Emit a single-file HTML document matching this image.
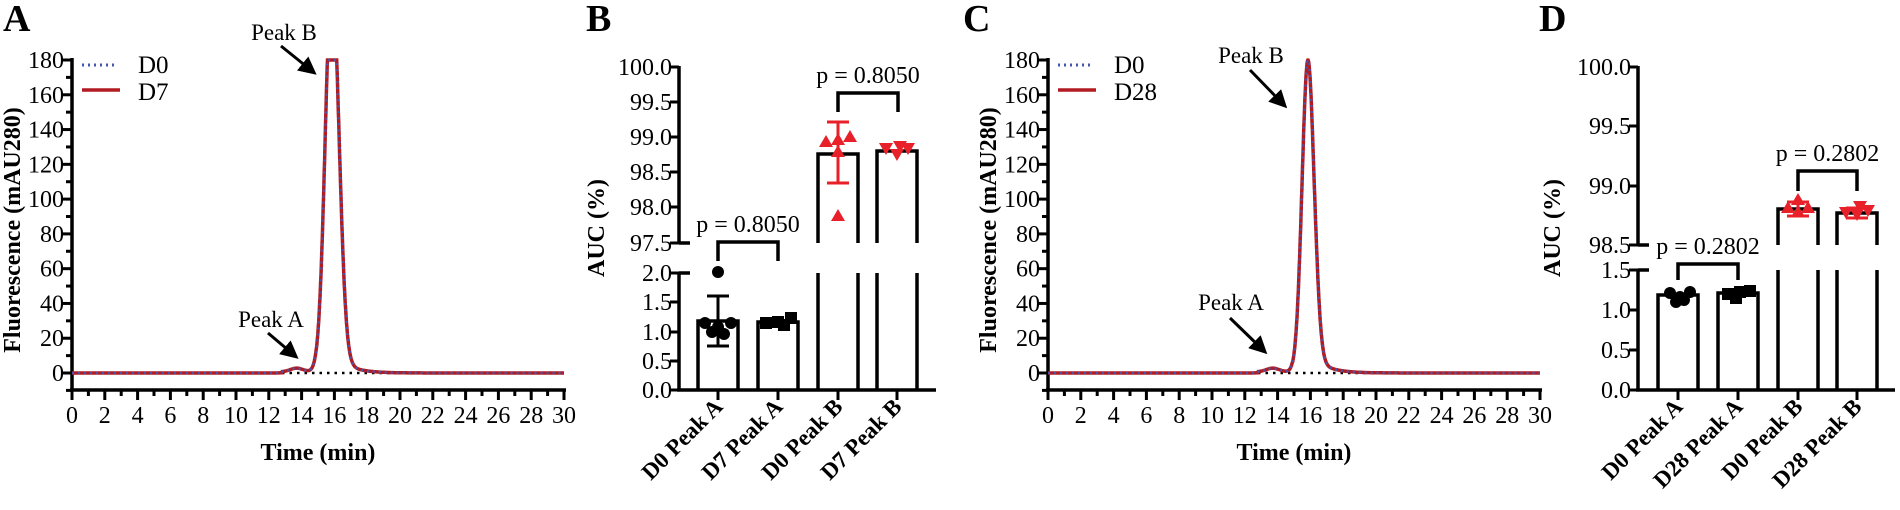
<!DOCTYPE html>
<html><head><meta charset="utf-8"><style>
html,body{margin:0;padding:0;background:#fff;}
svg{display:block;}
text{font-family:"Liberation Serif","Times New Roman",serif;}
</style></head><body>
<svg id="s" width="1900" height="510" viewBox="0 0 1900 510" xmlns="http://www.w3.org/2000/svg" font-family="'Liberation Serif', serif">
<defs><marker id="ah" markerWidth="6" markerHeight="6" refX="4" refY="3" orient="auto" markerUnits="strokeWidth"><path d="M0,0 L6,3 L0,6 z" fill="#000"/></marker></defs>
<g font-weight="bold" font-size="38" font-family="'Liberation Serif', serif">
<text x="3" y="31">A</text><text x="586" y="31">B</text><text x="963" y="31">C</text><text x="1539" y="31">D</text>
</g>
<g id="g" font-family="'Liberation Serif', serif"></g>
</svg>
<script>
var g=document.getElementById('g'),h='';
var FF=' font-family="Liberation Serif, serif" ';
function L(x1,y1,x2,y2,w,c,extra){h+='<line x1="'+x1+'" y1="'+y1+'" x2="'+x2+'" y2="'+y2+'" stroke="'+(c||'#000')+'" stroke-width="'+(w||3)+'" '+(extra||'')+'/>';}
function T(x,y,s,fs,anc,extra){h+='<text'+FF+'x="'+x+'" y="'+y+'" font-size="'+fs+'" text-anchor="'+(anc||'start')+'" '+(extra||'')+'>'+s+'</text>';}
function chrom(ox,label,H,sL,sR,clip){
  var y0=373,px=16.4,py=313/180;
  L(ox,58,ox,391,3.5);L(ox-2,390,ox+494,390,3.5);
  for(var v=-10;v<=180;v+=10){var y=y0-v*py;L(ox-(v%20==0?9:6),y,ox,y,3);if(v%20==0&&v>=0)T(ox-8,y+8,v,24,'end');}
  for(var t=0;t<=30;t++){var x=ox+t*px;L(x,390,x,t%2==0?400:396,3);if(t%2==0)T(x,423,t,24,'middle');}
  T(ox+246,460,'Time (min)',24,'middle','font-weight="bold"');
  h+='<text'+FF+'transform="translate('+(ox-52)+',230) rotate(-90)" font-size="24" font-weight="bold" text-anchor="middle">Fluorescence (mAU280)</text>';
  L(ox,y0,ox+492,y0,2.5,'#000','stroke-dasharray="2.5,5"');
  var d='';
  for(var t=0;t<=30;t+=0.02){
    var s=t<15.85?sL:sR;var f=H*Math.exp(-Math.pow(t-15.85,2)/(2*s*s));
    if(t>16.2)f+=9*Math.exp(-(t-16.2)/0.9)*(1-Math.exp(-(t-16.2)*4));
    f+=2.2*Math.exp(-Math.pow(t-13.7,2)/(2*0.4*0.4));
    if(t>12.8&&t<14.9)f+=0.6;
    if(clip&&f>180)f=180;
    d+=(t==0?'M':'L')+(ox+t*px).toFixed(1)+','+(y0-f*py).toFixed(1);
  }
  h+='<path d="'+d+'" fill="none" stroke="#b01c22" stroke-width="3.5"/>';
  h+='<path d="'+d+'" fill="none" stroke="#4457b0" stroke-width="2.5" stroke-dasharray="2,4"/>';
  L(ox+10,65,ox+46,65,3,'#4457b0','stroke-dasharray="2,4"');T(ox+66,73,'D0',25);
  L(ox+10,90,ox+48,90,3.5,'#b01c22');T(ox+66,100,label,25);
}
chrom(72,'D7',230,0.4,0.42,true);
chrom(1048,'D28',180,0.36,0.38,false);
T(284,40,'Peak B',23,'middle');L(281,46,312,71,3,'#000','marker-end="url(#ah)"');
T(271,327,'Peak A',23,'middle');L(268,333,294,355,3,'#000','marker-end="url(#ah)"');
T(1251,63,'Peak B',23,'middle');L(1250,70,1283,104,3,'#000','marker-end="url(#ah)"');
T(1231,310,'Peak A',23,'middle');L(1230,318,1263,350,3,'#000','marker-end="url(#ah)"');

function bars(ox,xend,up,lo,brk,bar,cats,pl,pu){
  L(ox,up.top-1,ox,up.bot,3.5);L(ox,lo.top,ox,391,3.5);L(ox-2,390,xend,390,3.5);
  up.ticks.forEach(function(k){L(ox-9,k[1],ox,k[1],3);T(ox-7,k[1]+8,k[0],24,'end');});
  lo.ticks.forEach(function(k){L(ox-9,k[1],ox,k[1],3);T(ox-7,k[1]+8,k[0],24,'end');});
  L(ox,up.bot,ox+11,up.bot,3.5);L(ox,lo.top,ox+11,lo.top,3.5);
  h+='<text'+FF+'transform="translate('+(brk.lx)+',228) rotate(-90)" font-size="24" font-weight="bold" text-anchor="middle">AUC (%)</text>';
  bar.forEach(function(b,i){
    var x1=b.c-20,x2=b.c+20;
    if(b.low){h+='<polyline points="'+x1+',390 '+x1+','+b.y+' '+x2+','+b.y+' '+x2+',390" fill="none" stroke="#000" stroke-width="3.5"/>';}
    else{L(x1,lo.top,x1,390,3.5);L(x2,lo.top,x2,390,3.5);
      h+='<polyline points="'+x1+','+up.bot+' '+x1+','+b.y+' '+x2+','+b.y+' '+x2+','+up.bot+'" fill="none" stroke="#000" stroke-width="3.5"/>';}
    L(b.c,390,b.c,400,3);
    h+='<text'+FF+'transform="translate('+(b.c+6)+',408) rotate(-45)" font-size="23" font-weight="bold" text-anchor="end">'+cats[i]+'</text>';
  });
  [pl,pu].forEach(function(p){
    h+='<polyline points="'+p.x1+','+p.yb+' '+p.x1+','+p.y+' '+p.x2+','+p.y+' '+p.x2+','+p.yb+'" fill="none" stroke="#000" stroke-width="3.5"/>';
    T((p.x1+p.x2)/2,p.y-10,p.t,24,'middle');
  });
}
function circ(x,y){h+='<circle cx="'+x+'" cy="'+y+'" r="6" fill="#000"/>';}
function sq(x,y){h+='<rect x="'+(x-6)+'" y="'+(y-6)+'" width="12" height="12" fill="#000"/>';}
function tri(x,y,c){h+='<path d="M'+x+','+(y-7)+' L'+(x+7)+','+(y+5)+' L'+(x-7)+','+(y+5)+' z" fill="'+c+'"/>';}
function itri(x,y,c){h+='<path d="M'+x+','+(y+7)+' L'+(x+7)+','+(y-5)+' L'+(x-7)+','+(y-5)+' z" fill="'+c+'"/>';}
function err(x,y1,y2,c){L(x,y1,x,y2,3,c);L(x-11,y1,x+11,y1,3,c);L(x-11,y2,x+11,y2,3,c);}
var R='#e8202a';
bars(679,936,{top:67,bot:243,ticks:[['100.0',67],['99.5',102],['99.0',137],['98.5',172],['98.0',207],['97.5',243]]},
 {top:273,ticks:[['2.0',273],['1.5',302],['1.0',332],['0.5',361],['0.0',390]]},{lx:604},
 [{c:718,y:321,low:1},{c:778,y:322,low:1},{c:838,y:154},{c:897,y:151}],
 ['D0 Peak A','D7 Peak A','D0 Peak B','D7 Peak B'],
 {x1:718,x2:778,y:242,yb:261,t:'p = 0.8050'},{x1:838,x2:898,y:93,yb:112,t:'p = 0.8050'});
err(718,296,346,'#000');
circ(718,272);circ(705,323);circ(731,323);circ(712,332);circ(724,334);circ(718,327);
sq(766,323);sq(778,322);sq(791,318);sq(784,325);
err(838,122,183,R);
tri(838,140,R);tri(826,142,R);tri(850,137,R);tri(838,152,R);tri(838,216,R);
itri(886,148,R);itri(897,154,R);itri(908,148,R);itri(900,146,R);
bars(1638,1895,{top:67,bot:245,ticks:[['100.0',67],['99.5',126],['99.0',186],['98.5',245]]},
 {top:270,ticks:[['1.5',270],['1.0',310],['0.5',350],['0.0',390]]},{lx:1560},
 [{c:1678,y:295,low:1},{c:1738,y:293,low:1},{c:1798,y:209},{c:1857,y:213}],
 ['D0 Peak A','D28 Peak A','D0 Peak B','D28 Peak B'],
 {x1:1678,x2:1738,y:264,yb:280,t:'p = 0.2802'},{x1:1798,x2:1857,y:171,yb:191,t:'p = 0.2802'});
circ(1670,293);circ(1680,297);circ(1690,292);circ(1676,302);circ(1684,300);
sq(1728,294);sq(1740,292);sq(1750,291);sq(1736,298);
err(1798,202,216,R);tri(1798,200,R);tri(1788,208,R);tri(1808,208,R);tri(1798,212,R);
err(1857,208,218,R);itri(1846,212,R);itri(1857,214,R);itri(1868,210,R);itri(1860,206,R);
g.innerHTML=h;
</script>
</body></html>
